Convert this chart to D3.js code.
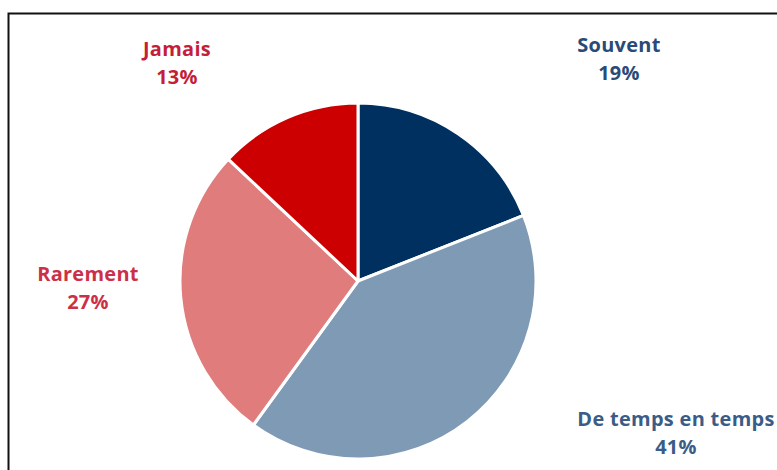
<!DOCTYPE html>
<html>
<head>
<meta charset="utf-8">
<script src="https://cdn.jsdelivr.net/npm/d3@7"></script>
<style>
  body { margin: 0; background: #fff; }
  svg { display: block; }
  .lbl { font-family: "Open Sans", Lato, sans-serif; font-weight: bold; font-size: 19px; letter-spacing: 0.3px; }
</style>
</head>
<body>
<script>
var width = 777, height = 470

// data
var categories = ["Souvent", "De temps en temps", "Rarement", "Jamais"]
var values = [19, 41, 27, 13]
var sliceColors = ["#00305f", "#7f9ab4", "#e07c7c", "#cc0000"]
var labelColors = ["#2a4a78", "#3b5c86", "#cc3048", "#c41e3a"]
var labelPos = [[619, 52], [676, 426], [88, 281], [177, 56]]

var center = [358, 281]
var radius = 178

var svg = d3.select("body").append("svg")
  .attr("width", width)
  .attr("height", height)

// frame of the original picture
svg.append("rect")
  .attr("x", 8.5).attr("y", 13.5)
  .attr("width", width + 20).attr("height", height + 20)
  .attr("fill", "none")
  .attr("stroke", "#111")
  .attr("stroke-width", 2)

var data = categories.map(function (c, i) { return { name: c, value: values[i], i: i } })

var pie = d3.pie()
  .value(function (d) { return d.value })
  .sort(null)

var arc = d3.arc().innerRadius(0).outerRadius(radius)

var g = svg.append("g").attr("transform", "translate(" + center[0] + "," + center[1] + ")")

g.selectAll("path")
  .data(pie(data))
  .enter()
  .append("path")
  .attr("d", arc)
  .attr("fill", function (d) { return sliceColors[d.data.i] })
  .attr("stroke", "#fff")
  .attr("stroke-width", 3)
  .attr("stroke-linejoin", "round")

// labels, stretched a little to match the wide lettering of the original
var labels = svg.append("g").selectAll("text")
  .data(data)
  .enter()
  .append("text")
  .attr("class", "lbl")
  .attr("text-anchor", "middle")
  .attr("fill", function (d) { return labelColors[d.i] })
  .attr("transform", function (d) { return "translate(" + labelPos[d.i][0] + "," + labelPos[d.i][1] + ") scale(1.05,1)" })

labels.append("tspan")
  .attr("x", 0)
  .text(function (d) { return d.name })
labels.append("tspan")
  .attr("x", 0)
  .attr("dy", 28)
  .text(function (d) { return d.value + "%" })
</script>
</body>
</html>
